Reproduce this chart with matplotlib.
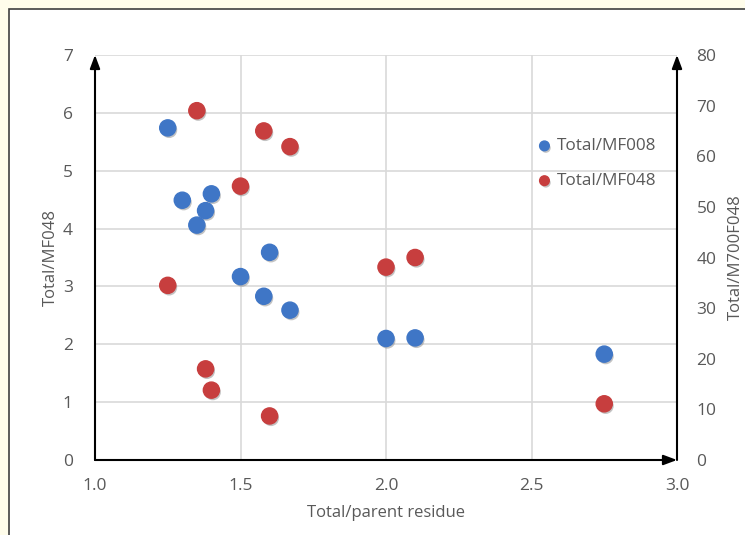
import matplotlib
matplotlib.use('Agg')
import matplotlib.pyplot as plt
import matplotlib.patches as mpatches
import matplotlib.patheffects as pe

# Data
x_mf008 = [1.25, 1.30, 1.35, 1.38, 1.40, 1.50, 1.58, 1.60, 1.67, 2.00, 2.10, 2.75]
y_mf008 = [5.74, 4.49, 4.06, 4.31, 4.60, 3.17, 2.83, 3.59, 2.59, 2.10, 2.11, 1.83]

x_mf048 = [1.25, 1.35, 1.38, 1.40, 1.50, 1.58, 1.60, 1.67, 2.00, 2.10, 2.75]
y_mf048 = [34.5, 69.0, 18.0, 13.8, 54.1, 65.0, 8.7, 61.9, 38.1, 40.0, 11.1]

x_ticks = [1.0, 1.5, 2.0, 2.5, 3.0]
left_ticks = list(range(0, 8))
right_ticks = list(range(0, 90, 10))

blue = '#3F76C6'
red = '#C73E3E'
text_col = '#595959'
grid_col = '#D9D9D9'

plt.rcParams['font.family'] = ['Open Sans', 'DejaVu Sans']

fig = plt.figure(figsize=(7.45, 5.35), dpi=100)
fig.patch.set_facecolor('#FFFDEB')

# white chart panel with dark border (runs off right and bottom edges)
W, H = 745, 535
panel = mpatches.Rectangle((9 / W, -0.05), 1.1, (H - 9) / H + 0.05,
                           transform=fig.transFigure, facecolor='white',
                           edgecolor='#404040', linewidth=1.2, zorder=-10)
fig.patches.append(panel)

ax = fig.add_axes([95 / W, (H - 460) / H, (677 - 95) / W, (460 - 55) / H])
ax.set_facecolor('none')
ax2 = ax.twinx()

ax.set_xlim(1.0, 3.0)
ax.set_ylim(0, 7)
ax2.set_ylim(0, 80)
ax.set_xticks(x_ticks)
ax.set_xticklabels([f'{v:.1f}' for v in x_ticks])
ax.set_yticks(left_ticks)
ax2.set_yticks(right_ticks)

for a in (ax, ax2):
    for s in a.spines.values():
        s.set_visible(False)
    a.tick_params(length=0, labelsize=12.5, labelcolor=text_col)
ax.tick_params(axis='y', pad=16)
ax.tick_params(axis='x', pad=13)
ax2.tick_params(axis='y', pad=14)

ax.grid(True, color=grid_col, linewidth=1.2)
ax.set_axisbelow(True)

# axis lines with arrowheads
arrow = dict(arrowstyle='-|>,head_length=0.8,head_width=0.3', color='black',
             lw=1.5, shrinkA=0, shrinkB=0)
ax.annotate('', xy=(0, 1), xytext=(0, 0), xycoords='axes fraction',
            arrowprops=arrow, annotation_clip=False)
ax.annotate('', xy=(1, 0), xytext=(0, 0), xycoords='axes fraction',
            arrowprops=arrow, annotation_clip=False)
ax.annotate('', xy=(1, 1), xytext=(1, 0), xycoords='axes fraction',
            arrowprops=arrow, annotation_clip=False)

shadow = [pe.SimplePatchShadow(offset=(1, -1.5), shadow_rgbFace='#888888', alpha=0.5), pe.Normal()]
h1 = ax.scatter(x_mf008, y_mf008, s=135, color=blue, zorder=3,
                label='Total/MF008', path_effects=shadow, clip_on=False)
h2 = ax2.scatter(x_mf048, y_mf048, s=135, color=red, zorder=3,
                 label='Total/MF048', path_effects=shadow, clip_on=False)

ax.set_xlabel('Total/parent residue', fontsize=12, color=text_col, labelpad=8)
ax.set_ylabel('Total/MF048', fontsize=12, color=text_col, labelpad=3)
ax2.set_ylabel('Total/M700F048', fontsize=12, color=text_col, labelpad=8)

leg = fig.legend([h1, h2], ['Total/MF008', 'Total/MF048'], loc='upper left',
                 bbox_to_anchor=(512 / W, 1 - 123 / H), frameon=False,
                 fontsize=12.3, handletextpad=-0.3, labelspacing=1.1,
                 markerscale=0.6, labelcolor=text_col)

fig.savefig('out.png', dpi=100, facecolor=fig.get_facecolor())
